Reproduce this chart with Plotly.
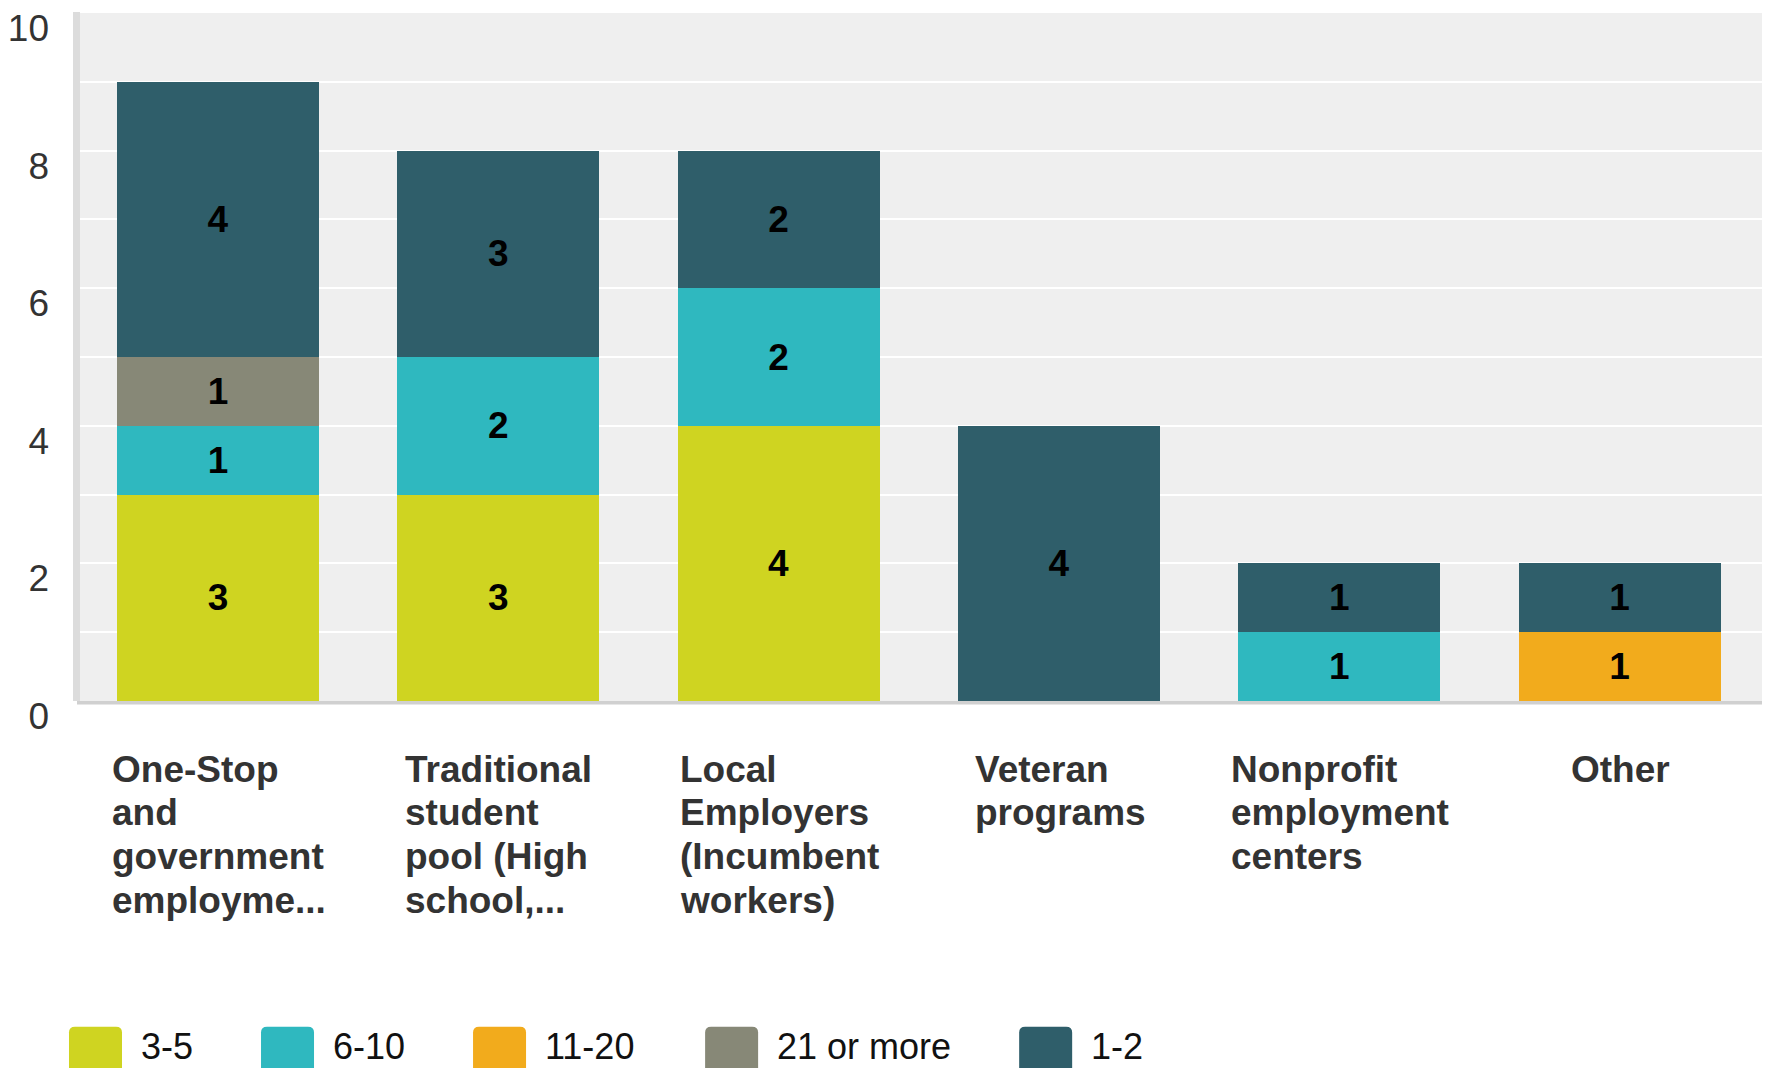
import plotly.graph_objects as go

# ---------------- data ----------------
categories = [
    "One-Stop and government employme...",
    "Traditional student pool (High school,...",
    "Local Employers (Incumbent workers)",
    "Veteran programs",
    "Nonprofit employment centers",
    "Other",
]
category_lines = [
    ["One-Stop", "and", "government", "employme..."],
    ["Traditional", "student", "pool (High", "school,..."],
    ["Local", "Employers", "(Incumbent", "workers)"],
    ["Veteran", "programs"],
    ["Nonprofit", "employment", "centers"],
    ["Other"],
]

series_names = ["3-5", "6-10", "11-20", "21 or more", "1-2"]
counts_3_5 = [3, 3, 4, 0, 0, 0]
counts_6_10 = [1, 2, 2, 0, 1, 0]
counts_11_20 = [0, 0, 0, 0, 0, 1]
counts_21_more = [1, 0, 0, 0, 0, 0]
counts_1_2 = [4, 3, 2, 4, 1, 1]
series_values = [counts_3_5, counts_6_10, counts_11_20, counts_21_more, counts_1_2]

y_grid_values = list(range(0, 11))
y_tick_labels = [str(v) if v % 2 == 0 else "" for v in y_grid_values]

# ---------------- style ----------------
COLORS = {
    "3-5": "#CFD421",
    "6-10": "#2FB8BF",
    "11-20": "#F2AB1C",
    "21 or more": "#878877",
    "1-2": "#2F5E6A",
}
FONT = "Liberation Sans, Arial, Helvetica, sans-serif"

W, H = 1770, 1068
PL, PR, PT, PB = 80, 1762, 8, 701   # plot area edges in pixels


def px_x(px):
    return (px - PL) / (PR - PL)


def px_y(py):
    return (PB - py) / (PB - PT)


# Arial advance widths (1/1000 em) used to centre the left-aligned label blocks
BOLD_W = {
    " ": 278, "-": 333, ".": 278, ",": 278, "(": 333, ")": 333,
    "E": 667, "H": 722, "I": 278, "L": 611, "N": 722, "O": 778, "S": 667,
    "T": 611, "V": 667,
    "a": 556, "b": 611, "c": 556, "d": 611, "e": 556, "f": 333, "g": 611,
    "h": 611, "i": 278, "k": 556, "l": 278, "m": 889, "n": 611, "o": 611,
    "p": 611, "r": 389, "s": 556, "t": 333, "u": 611, "v": 556, "w": 778,
    "y": 556,
}
REG_W = {" ": 278, "-": 333, "o": 556, "r": 333, "m": 833, "e": 556}


def text_px(s, size, table):
    return sum(table.get(c, 556) for c in s) * size / 1000.0


fig = go.Figure()

for name, vals in zip(series_names, series_values):
    fig.add_trace(go.Bar(
        x=categories,
        y=[v if v else None for v in vals],
        name=name,
        marker=dict(color=COLORS[name], line=dict(width=0)),
        text=[str(v) if v else "" for v in vals],
        texttemplate="%{text}",
        textposition="inside",
        insidetextanchor="middle",
        textangle=0,
        textfont=dict(family=FONT, size=37, color="#000000", weight="bold"),
        showlegend=False,
        hoverinfo="skip",
    ))

# category labels: left-aligned lines inside a block centred under each bar
LABEL_SIZE = 37
LINE_PITCH = 43.7
FIRST_LINE_CENTER = 769
for cat, lines in zip(categories, category_lines):
    block = max(text_px(l, LABEL_SIZE, BOLD_W) for l in lines)
    for i, line in enumerate(lines):
        fig.add_annotation(
            x=cat, xref="x", y=0, yref="paper",
            text=line, showarrow=False,
            xanchor="left", yanchor="middle",
            xshift=-block / 2,
            yshift=-(FIRST_LINE_CENTER - PB + i * LINE_PITCH),
            font=dict(family=FONT, size=LABEL_SIZE, color="#333333", weight="bold"),
            borderpad=0,
        )

# legend row with rounded swatches
LEG_SIZE = 36
SW_W, SW_TOP, SW_BOT, SW_R = 53, 1029, 1095, 6
x = 69
for name in series_names:
    x0, x1 = x, x + SW_W
    pts = [
        ("M", [(x0, SW_BOT)]),
        ("L", [(x0, SW_TOP + SW_R)]),
        ("Q", [(x0, SW_TOP), (x0 + SW_R, SW_TOP)]),
        ("L", [(x1 - SW_R, SW_TOP)]),
        ("Q", [(x1, SW_TOP), (x1, SW_TOP + SW_R)]),
        ("L", [(x1, SW_BOT)]),
    ]
    path = " ".join(
        cmd + " " + " ".join(f"{px_x(a):.5f},{px_y(b):.5f}" for a, b in p)
        for cmd, p in pts
    ) + " Z"
    fig.add_shape(type="path", path=path, xref="paper", yref="paper",
                  fillcolor=COLORS[name], line=dict(width=0), layer="above")
    tx = x1 + 18
    fig.add_annotation(
        x=px_x(tx), y=px_y(1049), xref="paper", yref="paper",
        text=name, showarrow=False, xanchor="left", yanchor="middle",
        font=dict(family=FONT, size=LEG_SIZE, color="#111111"),
        borderpad=0,
    )
    x = tx + text_px(name, LEG_SIZE, REG_W) + 69

# left border band and bottom axis line
fig.add_shape(type="rect", xref="paper", yref="paper",
              x0=px_x(73), x1=px_x(80), y0=px_y(701), y1=px_y(7),
              fillcolor="#DCDCDC", line=dict(width=0), layer="above")
fig.add_shape(type="rect", xref="paper", yref="paper",
              x0=px_x(77), x1=px_x(1762), y0=px_y(704.5), y1=px_y(701),
              fillcolor="#D0D0D0", line=dict(width=0), layer="above")

fig.update_layout(
    width=W, height=H,
    margin=dict(l=PL, r=W - PR, t=PT, b=H - PB, pad=0),
    barmode="stack",
    bargap=0.28,
    plot_bgcolor="#EFEFEF",
    paper_bgcolor="#FFFFFF",
    font=dict(family=FONT, color="#333333"),
    xaxis=dict(
        type="category",
        range=[-0.492, 5.508],
        showticklabels=False,
        showgrid=False,
        zeroline=False,
        showline=False,
        ticks="",
    ),
    yaxis=dict(
        range=[0, 10],
        tickmode="array",
        tickvals=y_grid_values,
        ticktext=y_tick_labels,
        showgrid=True,
        gridcolor="#FFFFFF",
        gridwidth=2,
        zeroline=False,
        showline=False,
        ticks="",
        tickfont=dict(family=FONT, size=37, color="#333333"),
        ticklabelstandoff=30,
        ticklabelshift=15,
    ),
)

fig.write_html("out.html")
